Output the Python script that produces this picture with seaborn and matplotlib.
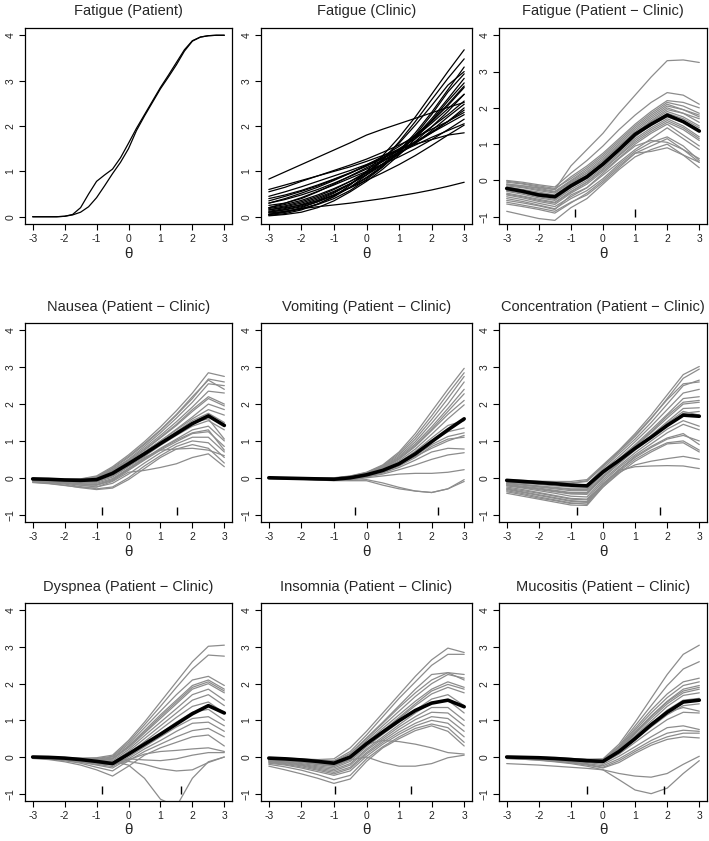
"""
plot.py
Item response difference curves, 3x3 panel layout.
"""
import pandas as pd
import matplotlib
matplotlib.use("Agg")
import matplotlib.pyplot as plt
import seaborn as sns

# theta grid used for every curve
theta = [-3, -2.5, -2, -1.5, -1, -0.5, 0, 0.5, 1, 1.5, 2, 2.5, 3]
# finer grid for the two patient curves (they bend more)
theta_fine = [-3, -2.75, -2.5, -2.25, -2, -1.75, -1.5, -1.25, -1, -0.75, -0.5, -0.25,
              0, 0.25, 0.5, 0.75, 1, 1.25, 1.5, 1.75, 2, 2.25, 2.5, 2.75, 3]

fatigue_patient = [
    [0.00, 0.00, 0.00, 0.00, 0.01, 0.05, 0.20, 0.50, 0.78, 0.92, 1.05, 1.30, 1.62,
     1.95, 2.25, 2.55, 2.85, 3.12, 3.40, 3.68, 3.88, 3.96, 3.99, 4.00, 4.00],
    [0.00, 0.00, 0.00, 0.00, 0.01, 0.04, 0.10, 0.22, 0.42, 0.68, 0.95, 1.20, 1.50,
     1.90, 2.22, 2.52, 2.82, 3.08, 3.35, 3.65, 3.87, 3.96, 3.99, 4.00, 4.00],
]

fatigue_clinic = [
    [0.83, 0.99, 1.15, 1.31, 1.47, 1.63, 1.80, 1.93, 2.05, 2.17, 2.29, 2.41, 2.52],
    [0.05, 0.12, 0.18, 0.22, 0.26, 0.30, 0.35, 0.40, 0.46, 0.52, 0.59, 0.67, 0.76],
    [0.03, 0.07, 0.15, 0.28, 0.45, 0.70, 1.00, 1.35, 1.75, 2.20, 2.70, 3.20, 3.68],
    [0.60, 0.70, 0.80, 0.90, 1.00, 1.10, 1.22, 1.35, 1.48, 1.60, 1.70, 1.80, 1.85],
    [0.55, 0.65, 0.78, 0.90, 1.02, 1.14, 1.27, 1.42, 1.58, 1.75, 1.93, 2.10, 2.30],
    [0.45, 0.55, 0.66, 0.78, 0.90, 1.02, 1.15, 1.30, 1.47, 1.65, 1.85, 2.05, 2.25],
    [0.40, 0.48, 0.58, 0.70, 0.83, 0.97, 1.12, 1.28, 1.46, 1.65, 1.87, 2.10, 2.35],
    [0.30, 0.38, 0.48, 0.60, 0.74, 0.89, 1.05, 1.22, 1.41, 1.62, 1.85, 2.10, 2.40],
    [0.20, 0.27, 0.36, 0.48, 0.62, 0.78, 0.96, 1.16, 1.38, 1.62, 1.90, 2.20, 2.48],
    [0.15, 0.22, 0.30, 0.42, 0.56, 0.73, 0.92, 1.14, 1.38, 1.66, 1.98, 2.32, 2.70],
    [0.12, 0.18, 0.27, 0.39, 0.54, 0.72, 0.93, 1.17, 1.44, 1.76, 2.10, 2.48, 2.88],
    [0.10, 0.15, 0.22, 0.33, 0.47, 0.65, 0.87, 1.12, 1.42, 1.77, 2.16, 2.60, 3.05],
    [0.08, 0.12, 0.18, 0.27, 0.40, 0.58, 0.82, 1.10, 1.45, 1.85, 2.30, 2.80, 3.30],
    [0.05, 0.10, 0.17, 0.28, 0.44, 0.65, 0.92, 1.25, 1.65, 2.10, 2.58, 3.05, 3.48],
    [0.18, 0.24, 0.33, 0.45, 0.60, 0.78, 0.99, 1.22, 1.48, 1.76, 2.06, 2.38, 2.70],
    [0.25, 0.30, 0.40, 0.55, 0.72, 0.90, 1.08, 1.25, 1.42, 1.58, 1.75, 1.90, 2.05],
    [0.05, 0.10, 0.20, 0.33, 0.48, 0.64, 0.80, 0.97, 1.15, 1.35, 1.57, 1.80, 2.02],
    [0.20, 0.30, 0.42, 0.56, 0.70, 0.85, 1.00, 1.16, 1.32, 1.50, 1.70, 1.92, 2.15],
    [0.35, 0.45, 0.56, 0.68, 0.82, 0.96, 1.12, 1.30, 1.50, 1.72, 1.98, 2.25, 2.55],
    [0.10, 0.16, 0.24, 0.36, 0.52, 0.72, 0.97, 1.27, 1.62, 2.02, 2.45, 2.90, 3.20],
    [0.15, 0.20, 0.26, 0.35, 0.48, 0.64, 0.85, 1.10, 1.42, 1.80, 2.25, 2.75, 3.15],
    [0.30, 0.40, 0.52, 0.65, 0.80, 0.96, 1.14, 1.33, 1.55, 1.80, 2.10, 2.45, 2.85],
    [0.02, 0.05, 0.10, 0.20, 0.35, 0.55, 0.78, 1.05, 1.36, 1.72, 2.12, 2.55, 2.95],
]

fatigue_diff = [
    [-0.10, -0.15, -0.20, -0.25, 0.40, 0.85, 1.30, 1.85, 2.35, 2.85, 3.30, 3.32, 3.25],
    [0.00, -0.05, -0.12, -0.18, 0.20, 0.55, 0.95, 1.40, 1.80, 2.15, 2.42, 2.35, 2.10],
    [-0.05, -0.10, -0.18, -0.25, 0.10, 0.40, 0.75, 1.15, 1.55, 1.90, 2.20, 2.15, 2.00],
    [-0.10, -0.15, -0.22, -0.30, 0.00, 0.30, 0.65, 1.05, 1.45, 1.80, 2.10, 1.95, 1.75],
    [-0.15, -0.20, -0.28, -0.35, -0.05, 0.20, 0.55, 0.95, 1.35, 1.70, 2.00, 1.85, 1.60],
    [-0.20, -0.28, -0.35, -0.42, -0.10, 0.15, 0.50, 0.90, 1.30, 1.62, 1.90, 1.75, 1.50],
    [-0.25, -0.32, -0.42, -0.48, -0.18, 0.08, 0.42, 0.82, 1.22, 1.52, 1.75, 1.60, 1.35],
    [-0.30, -0.38, -0.48, -0.55, -0.25, 0.00, 0.35, 0.75, 1.15, 1.45, 1.70, 1.50, 1.20],
    [-0.35, -0.43, -0.52, -0.60, -0.30, -0.05, 0.30, 0.68, 1.05, 1.35, 1.60, 1.40, 1.10],
    [-0.40, -0.48, -0.58, -0.66, -0.35, -0.10, 0.25, 0.62, 1.00, 1.30, 1.55, 1.25, 0.95],
    [-0.45, -0.53, -0.63, -0.72, -0.45, -0.20, 0.15, 0.50, 0.85, 1.15, 1.45, 1.15, 0.85],
    [-0.50, -0.58, -0.68, -0.78, -0.50, -0.28, 0.05, 0.45, 0.80, 1.05, 1.20, 0.95, 0.55],
    [-0.60, -0.68, -0.76, -0.85, -0.60, -0.40, -0.05, 0.35, 0.75, 0.95, 1.15, 0.85, 0.50],
    [-0.85, -0.95, -1.05, -1.10, -0.75, -0.50, -0.10, 0.30, 0.65, 0.85, 1.00, 0.70, 0.35],
    [-0.55, -0.62, -0.70, -0.80, -0.40, -0.20, 0.20, 0.60, 0.95, 1.10, 1.05, 0.85, 0.60],
    [-0.02, -0.08, -0.15, -0.22, 0.05, 0.35, 0.70, 1.10, 1.50, 1.85, 2.15, 2.05, 1.85],
    [-0.18, -0.25, -0.32, -0.40, -0.08, 0.20, 0.55, 0.95, 1.30, 1.65, 1.95, 1.85, 1.70],
    [-0.28, -0.35, -0.45, -0.52, -0.20, 0.05, 0.40, 0.80, 1.20, 1.55, 1.85, 1.70, 1.45],
    [-0.38, -0.45, -0.55, -0.62, -0.32, -0.05, 0.30, 0.70, 1.10, 1.40, 1.65, 1.45, 1.15],
    [-0.12, -0.18, -0.25, -0.32, -0.02, 0.25, 0.60, 1.00, 1.40, 1.75, 2.05, 1.95, 1.80],
    [-0.65, -0.72, -0.80, -0.90, -0.62, -0.35, 0.00, 0.40, 0.75, 0.80, 0.90, 0.70, 0.50],
]
fatigue_mean = [-0.22, -0.30, -0.40, -0.45, -0.15, 0.10, 0.45, 0.85, 1.27, 1.55, 1.80, 1.62, 1.36]

nausea_diff = [
    [-0.02, -0.03, -0.04, -0.03, 0.05, 0.30, 0.62, 0.98, 1.38, 1.82, 2.30, 2.85, 2.75],
    [-0.02, -0.03, -0.05, -0.04, 0.02, 0.25, 0.55, 0.90, 1.28, 1.70, 2.15, 2.68, 2.60],
    [-0.03, -0.04, -0.05, -0.05, 0.00, 0.22, 0.50, 0.85, 1.22, 1.62, 2.05, 2.55, 2.50],
    [-0.03, -0.04, -0.06, -0.06, -0.02, 0.20, 0.48, 0.80, 1.15, 1.52, 1.92, 2.35, 2.30],
    [-0.04, -0.05, -0.07, -0.08, -0.04, 0.16, 0.44, 0.75, 1.08, 1.42, 1.80, 2.15, 1.95],
    [-0.04, -0.05, -0.07, -0.09, -0.06, 0.12, 0.40, 0.70, 1.00, 1.32, 1.65, 2.00, 1.85],
    [-0.05, -0.06, -0.08, -0.10, -0.08, 0.08, 0.35, 0.65, 0.95, 1.25, 1.55, 1.75, 1.50],
    [-0.05, -0.07, -0.09, -0.12, -0.12, 0.02, 0.30, 0.58, 0.88, 1.15, 1.40, 1.55, 1.30],
    [-0.06, -0.08, -0.10, -0.14, -0.15, -0.02, 0.25, 0.52, 0.80, 1.05, 1.30, 1.40, 1.00],
    [-0.07, -0.09, -0.12, -0.17, -0.20, -0.08, 0.20, 0.48, 0.75, 0.98, 1.20, 1.25, 0.85],
    [-0.08, -0.10, -0.14, -0.20, -0.25, -0.15, 0.10, 0.40, 0.68, 0.92, 1.10, 1.10, 0.70],
    [-0.10, -0.13, -0.17, -0.24, -0.30, -0.25, 0.00, 0.32, 0.60, 0.85, 1.00, 0.95, 0.55],
    [-0.12, -0.15, -0.20, -0.27, -0.32, -0.28, -0.05, 0.25, 0.55, 0.78, 0.90, 0.80, 0.40],
    [-0.13, -0.16, -0.21, -0.26, -0.25, -0.10, 0.15, 0.20, 0.28, 0.38, 0.55, 0.65, 0.30],
    [-0.08, -0.11, -0.15, -0.20, -0.20, -0.05, 0.25, 0.55, 0.75, 0.78, 0.80, 0.75, 0.60],
    [-0.02, -0.03, -0.04, -0.04, 0.03, 0.27, 0.58, 0.93, 1.30, 1.72, 2.20, 2.65, 2.40],
    [-0.05, -0.06, -0.08, -0.10, -0.06, 0.12, 0.40, 0.70, 1.00, 1.30, 1.60, 1.85, 1.70],
    [-0.06, -0.07, -0.09, -0.12, -0.10, 0.05, 0.32, 0.62, 0.92, 1.20, 1.50, 1.60, 1.05],
    [-0.04, -0.05, -0.06, -0.07, -0.03, 0.18, 0.45, 0.76, 1.10, 1.45, 1.85, 2.20, 2.00],
    [-0.07, -0.09, -0.12, -0.16, -0.18, -0.05, 0.22, 0.50, 0.78, 1.02, 1.22, 1.30, 0.75],
]
nausea_mean = [-0.03, -0.04, -0.06, -0.07, -0.05, 0.12, 0.38, 0.65, 0.93, 1.20, 1.47, 1.68, 1.42]

vomiting_diff = [
    [0.00, 0.00, 0.00, -0.01, 0.00, 0.05, 0.15, 0.35, 0.70, 1.20, 1.80, 2.40, 2.97],
    [0.00, 0.00, 0.00, -0.01, -0.01, 0.04, 0.14, 0.33, 0.66, 1.12, 1.68, 2.28, 2.85],
    [0.00, 0.00, 0.00, -0.01, -0.01, 0.04, 0.13, 0.31, 0.62, 1.05, 1.58, 2.15, 2.75],
    [0.00, 0.00, -0.01, -0.02, -0.02, 0.03, 0.12, 0.29, 0.58, 0.98, 1.48, 2.00, 2.60],
    [0.00, 0.00, -0.01, -0.02, -0.02, 0.03, 0.11, 0.27, 0.55, 0.92, 1.38, 1.88, 2.40],
    [0.00, -0.01, -0.01, -0.02, -0.03, 0.02, 0.10, 0.25, 0.50, 0.85, 1.28, 1.72, 2.10],
    [0.00, -0.01, -0.01, -0.02, -0.03, 0.01, 0.09, 0.23, 0.46, 0.78, 1.18, 1.60, 1.98],
    [0.00, -0.01, -0.02, -0.03, -0.04, 0.00, 0.08, 0.21, 0.42, 0.72, 1.08, 1.42, 1.55],
    [0.00, -0.01, -0.02, -0.03, -0.04, -0.01, 0.07, 0.19, 0.38, 0.66, 0.98, 1.25, 1.35],
    [0.00, -0.01, -0.02, -0.03, -0.05, -0.02, 0.06, 0.17, 0.35, 0.60, 0.90, 1.12, 1.22],
    [-0.01, -0.02, -0.03, -0.04, -0.05, -0.03, 0.05, 0.15, 0.32, 0.55, 0.85, 1.05, 1.10],
    [-0.01, -0.02, -0.03, -0.04, -0.06, -0.04, 0.03, 0.13, 0.28, 0.48, 0.70, 0.80, 0.78],
    [-0.01, -0.02, -0.03, -0.05, -0.06, -0.05, 0.02, 0.10, 0.22, 0.35, 0.50, 0.62, 0.68],
    [-0.01, -0.02, -0.03, -0.05, -0.07, -0.06, 0.00, 0.05, 0.10, 0.12, 0.12, 0.15, 0.22],
    [-0.02, -0.03, -0.04, -0.05, -0.07, -0.08, -0.08, -0.20, -0.30, -0.36, -0.40, -0.30, -0.05],
    [-0.02, -0.03, -0.04, -0.06, -0.08, -0.07, -0.05, -0.14, -0.26, -0.36, -0.40, -0.30, -0.10],
    [0.00, 0.00, -0.01, -0.02, -0.02, 0.03, 0.11, 0.26, 0.52, 0.88, 1.32, 1.80, 2.28],
    [-0.01, -0.02, -0.03, -0.04, -0.05, -0.02, 0.06, 0.18, 0.36, 0.58, 0.80, 1.00, 1.15],
]
vomiting_mean = [0.00, -0.01, -0.02, -0.03, -0.04, 0.00, 0.08, 0.20, 0.38, 0.65, 0.98, 1.30, 1.60]

concentration_diff = [
    [-0.05, -0.07, -0.09, -0.10, -0.10, -0.05, 0.35, 0.75, 1.20, 1.70, 2.25, 2.80, 3.02],
    [-0.08, -0.10, -0.12, -0.14, -0.15, -0.10, 0.30, 0.70, 1.12, 1.60, 2.15, 2.70, 2.95],
    [-0.10, -0.12, -0.15, -0.18, -0.20, -0.18, 0.25, 0.65, 1.05, 1.50, 2.00, 2.50, 2.65],
    [-0.12, -0.15, -0.18, -0.22, -0.25, -0.25, 0.20, 0.58, 0.98, 1.40, 1.85, 2.30, 2.40],
    [-0.14, -0.18, -0.22, -0.26, -0.30, -0.30, 0.15, 0.52, 0.90, 1.30, 1.72, 2.15, 2.20],
    [-0.16, -0.20, -0.25, -0.30, -0.35, -0.35, 0.10, 0.48, 0.85, 1.22, 1.62, 2.00, 2.05],
    [-0.18, -0.23, -0.28, -0.34, -0.40, -0.40, 0.05, 0.42, 0.80, 1.15, 1.52, 1.88, 1.90],
    [-0.20, -0.26, -0.32, -0.38, -0.44, -0.45, 0.00, 0.38, 0.75, 1.08, 1.42, 1.75, 1.80],
    [-0.22, -0.28, -0.35, -0.42, -0.50, -0.52, -0.05, 0.32, 0.68, 1.00, 1.32, 1.55, 1.40],
    [-0.25, -0.32, -0.40, -0.48, -0.56, -0.58, -0.10, 0.28, 0.62, 0.92, 1.22, 1.45, 1.30],
    [-0.30, -0.38, -0.46, -0.54, -0.62, -0.65, -0.15, 0.22, 0.55, 0.82, 1.05, 1.15, 1.00],
    [-0.35, -0.43, -0.52, -0.60, -0.68, -0.72, -0.20, 0.18, 0.50, 0.75, 0.95, 1.00, 0.75],
    [-0.42, -0.50, -0.58, -0.66, -0.74, -0.75, -0.25, 0.12, 0.45, 0.70, 0.92, 0.95, 0.70],
    [-0.38, -0.46, -0.55, -0.62, -0.70, -0.68, -0.25, 0.15, 0.35, 0.45, 0.52, 0.58, 0.50],
    [-0.28, -0.35, -0.42, -0.50, -0.58, -0.60, -0.20, 0.20, 0.30, 0.32, 0.33, 0.32, 0.25],
    [-0.07, -0.09, -0.11, -0.13, -0.14, -0.08, 0.32, 0.72, 1.15, 1.62, 2.12, 2.55, 2.60],
    [-0.15, -0.19, -0.24, -0.28, -0.32, -0.32, 0.12, 0.50, 0.88, 1.25, 1.68, 2.05, 2.10],
    [-0.20, -0.25, -0.30, -0.36, -0.42, -0.42, 0.02, 0.40, 0.78, 1.12, 1.48, 1.80, 1.70],
    [-0.32, -0.40, -0.48, -0.56, -0.64, -0.66, -0.18, 0.22, 0.58, 0.85, 1.08, 1.20, 0.90],
]
concentration_mean = [-0.07, -0.10, -0.13, -0.16, -0.20, -0.22, 0.16, 0.47, 0.80, 1.10, 1.42, 1.70, 1.67]

dyspnea_diff = [
    [0.00, -0.01, -0.02, -0.03, -0.02, 0.05, 0.45, 0.95, 1.50, 2.05, 2.60, 3.02, 3.05],
    [0.00, -0.01, -0.02, -0.04, -0.04, 0.02, 0.40, 0.88, 1.38, 1.90, 2.40, 2.78, 2.75],
    [0.00, -0.01, -0.03, -0.05, -0.06, 0.00, 0.35, 0.80, 1.25, 1.70, 2.10, 2.20, 1.95],
    [0.00, -0.01, -0.03, -0.05, -0.07, -0.03, 0.30, 0.72, 1.15, 1.55, 1.95, 2.10, 1.85],
    [0.00, -0.02, -0.04, -0.06, -0.09, -0.06, 0.25, 0.65, 1.05, 1.45, 1.85, 2.00, 1.75],
    [0.00, -0.02, -0.04, -0.07, -0.11, -0.10, 0.20, 0.58, 0.95, 1.32, 1.70, 1.85, 1.55],
    [-0.01, -0.02, -0.05, -0.08, -0.13, -0.14, 0.15, 0.50, 0.85, 1.20, 1.55, 1.70, 1.40],
    [-0.01, -0.03, -0.06, -0.10, -0.15, -0.18, 0.10, 0.42, 0.75, 1.08, 1.38, 1.50, 1.20],
    [-0.01, -0.03, -0.06, -0.11, -0.17, -0.22, 0.05, 0.35, 0.65, 0.95, 1.22, 1.30, 1.00],
    [-0.02, -0.04, -0.07, -0.12, -0.20, -0.26, 0.00, 0.28, 0.55, 0.82, 1.05, 1.10, 0.85],
    [-0.02, -0.04, -0.08, -0.14, -0.22, -0.30, -0.05, 0.22, 0.45, 0.70, 0.92, 0.95, 0.70],
    [-0.03, -0.05, -0.10, -0.17, -0.28, -0.38, -0.10, 0.15, 0.35, 0.55, 0.72, 0.78, 0.55],
    [-0.04, -0.07, -0.13, -0.22, -0.35, -0.52, -0.25, 0.05, 0.25, 0.40, 0.55, 0.60, 0.30],
    [-0.03, -0.05, -0.09, -0.14, -0.20, -0.20, -0.08, 0.08, 0.15, 0.18, 0.22, 0.25, 0.15],
    [-0.02, -0.04, -0.07, -0.11, -0.16, -0.20, -0.12, -0.20, -0.32, -0.38, -0.35, -0.15, 0.00],
    [-0.02, -0.03, -0.05, -0.08, -0.10, -0.12, -0.22, -0.58, -1.15, -1.35, -0.58, -0.13, 0.00],
    [-0.01, -0.02, -0.04, -0.07, -0.10, -0.14, -0.05, -0.08, -0.10, -0.05, 0.05, 0.12, 0.12],
    [0.00, -0.01, -0.03, -0.05, -0.08, -0.05, 0.28, 0.68, 1.10, 1.50, 1.90, 2.05, 1.80],
]
dyspnea_mean = [0.00, -0.01, -0.03, -0.07, -0.12, -0.18, 0.08, 0.35, 0.62, 0.90, 1.18, 1.40, 1.20]

insomnia_diff = [
    [-0.02, -0.03, -0.05, -0.07, -0.05, 0.25, 0.70, 1.20, 1.70, 2.20, 2.65, 2.97, 2.85],
    [-0.03, -0.04, -0.06, -0.09, -0.10, 0.15, 0.60, 1.10, 1.60, 2.05, 2.50, 2.80, 2.80],
    [-0.04, -0.06, -0.09, -0.12, -0.14, 0.08, 0.50, 0.92, 1.35, 1.75, 2.10, 2.30, 2.25],
    [-0.05, -0.08, -0.11, -0.15, -0.18, 0.03, 0.45, 0.85, 1.25, 1.65, 2.00, 2.25, 2.15],
    [-0.06, -0.09, -0.13, -0.18, -0.22, -0.02, 0.40, 0.78, 1.15, 1.52, 1.85, 2.05, 1.90],
    [-0.08, -0.11, -0.15, -0.21, -0.26, -0.08, 0.33, 0.70, 1.05, 1.40, 1.72, 1.90, 1.75],
    [-0.09, -0.13, -0.18, -0.24, -0.30, -0.12, 0.28, 0.62, 0.95, 1.28, 1.58, 1.70, 1.40],
    [-0.10, -0.14, -0.20, -0.27, -0.34, -0.18, 0.22, 0.55, 0.88, 1.20, 1.48, 1.55, 1.20],
    [-0.12, -0.16, -0.22, -0.30, -0.38, -0.22, 0.18, 0.50, 0.82, 1.10, 1.35, 1.35, 1.00],
    [-0.13, -0.18, -0.24, -0.33, -0.42, -0.28, 0.12, 0.45, 0.75, 1.02, 1.22, 1.20, 0.85],
    [-0.15, -0.20, -0.27, -0.36, -0.46, -0.32, 0.08, 0.40, 0.68, 0.92, 1.10, 1.05, 0.70],
    [-0.17, -0.22, -0.30, -0.40, -0.50, -0.38, 0.02, 0.35, 0.62, 0.85, 1.00, 0.92, 0.55],
    [-0.20, -0.27, -0.36, -0.48, -0.62, -0.50, -0.05, 0.28, 0.55, 0.78, 0.90, 0.80, 0.40],
    [-0.25, -0.35, -0.46, -0.58, -0.72, -0.60, -0.12, 0.25, 0.50, 0.72, 0.85, 0.70, 0.30],
    [-0.06, -0.09, -0.12, -0.17, -0.20, -0.05, 0.35, 0.45, 0.42, 0.35, 0.25, 0.12, 0.08],
    [-0.05, -0.08, -0.11, -0.15, -0.18, -0.08, 0.00, -0.15, -0.25, -0.25, -0.18, -0.02, 0.05],
    [-0.03, -0.05, -0.08, -0.11, -0.12, 0.10, 0.52, 0.95, 1.40, 1.85, 2.25, 2.30, 2.10],
    [-0.07, -0.10, -0.14, -0.19, -0.24, -0.05, 0.35, 0.72, 1.08, 1.45, 1.80, 1.98, 1.85],
]
insomnia_mean = [-0.03, -0.05, -0.08, -0.12, -0.17, 0.00, 0.36, 0.68, 0.99, 1.27, 1.47, 1.55, 1.37]

mucositis_diff = [
    [0.00, 0.00, -0.01, -0.02, -0.04, -0.06, -0.05, 0.35, 0.95, 1.60, 2.25, 2.80, 3.05],
    [0.00, 0.00, -0.01, -0.02, -0.04, -0.07, -0.07, 0.30, 0.85, 1.40, 1.95, 2.40, 2.60],
    [0.00, -0.01, -0.02, -0.03, -0.05, -0.08, -0.08, 0.27, 0.78, 1.28, 1.72, 2.05, 2.15],
    [0.00, -0.01, -0.02, -0.03, -0.05, -0.08, -0.09, 0.25, 0.73, 1.20, 1.62, 1.95, 2.05],
    [0.00, -0.01, -0.02, -0.04, -0.06, -0.09, -0.10, 0.22, 0.68, 1.12, 1.52, 1.85, 1.95],
    [-0.01, -0.02, -0.03, -0.05, -0.07, -0.10, -0.11, 0.20, 0.63, 1.05, 1.45, 1.75, 1.85],
    [-0.01, -0.02, -0.03, -0.05, -0.07, -0.10, -0.12, 0.18, 0.58, 0.98, 1.38, 1.68, 1.75],
    [-0.01, -0.02, -0.04, -0.06, -0.08, -0.11, -0.13, 0.15, 0.52, 0.90, 1.28, 1.55, 1.60],
    [-0.01, -0.02, -0.04, -0.06, -0.09, -0.12, -0.14, 0.12, 0.47, 0.82, 1.15, 1.40, 1.45],
    [-0.02, -0.03, -0.05, -0.07, -0.10, -0.13, -0.16, 0.08, 0.40, 0.72, 1.02, 1.22, 1.20],
    [-0.02, -0.03, -0.05, -0.08, -0.11, -0.15, -0.20, 0.02, 0.28, 0.55, 0.80, 0.85, 0.75],
    [-0.03, -0.04, -0.06, -0.09, -0.13, -0.18, -0.24, -0.05, 0.20, 0.45, 0.65, 0.73, 0.70],
    [-0.03, -0.05, -0.07, -0.10, -0.14, -0.20, -0.28, -0.10, 0.15, 0.38, 0.55, 0.65, 0.65],
    [-0.04, -0.06, -0.08, -0.12, -0.16, -0.22, -0.30, -0.15, 0.10, 0.32, 0.48, 0.55, 0.52],
    [-0.18, -0.20, -0.22, -0.25, -0.28, -0.31, -0.35, -0.45, -0.52, -0.55, -0.45, -0.20, 0.02],
    [-0.04, -0.06, -0.09, -0.13, -0.18, -0.25, -0.35, -0.62, -0.90, -1.00, -0.85, -0.45, -0.10],
    [-0.01, -0.02, -0.03, -0.05, -0.08, -0.11, -0.12, 0.17, 0.55, 0.92, 1.22, 1.35, 1.25],
    [0.00, -0.01, -0.02, -0.04, -0.06, -0.09, -0.10, 0.21, 0.66, 1.10, 1.50, 1.80, 1.90],
]
mucositis_mean = [0.00, -0.01, -0.02, -0.04, -0.07, -0.10, -0.12, 0.15, 0.50, 0.88, 1.22, 1.50, 1.55]

# item thresholds marked near the bottom of each difference panel
fatigue_marks = [-0.86, 1.00]
nausea_marks = [-0.84, 1.53]
vomiting_marks = [-0.35, 2.19]
concentration_marks = [-0.81, 1.77]
dyspnea_marks = [-0.82, 1.64]
insomnia_marks = [-0.98, 1.36]
mucositis_marks = [-0.50, 1.91]

titles = [
    "Fatigue (Patient)", "Fatigue (Clinic)", "Fatigue (Patient \u2212 Clinic)",
    "Nausea (Patient \u2212 Clinic)", "Vomiting (Patient \u2212 Clinic)",
    "Concentration (Patient \u2212 Clinic)", "Dyspnea (Patient \u2212 Clinic)",
    "Insomnia (Patient \u2212 Clinic)", "Mucositis (Patient \u2212 Clinic)",
]


def to_long(curves, grid):
    rows = []
    for i, c in enumerate(curves):
        for t, v in zip(grid, c):
            rows.append((i, t, v))
    return pd.DataFrame(rows, columns=["curve", "theta", "value"])


sns.set_theme(style="ticks")
plt.rcParams["font.family"] = ["Liberation Sans", "DejaVu Sans"]

W, H = 709, 841
fig = plt.figure(figsize=(W / 100, H / 100), dpi=100)

col_left = [25, 261, 499]
col_w = [207, 211, 208]
row_top = [28, 323, 603]
row_h = [196, 199, 198]

panels = [
    (fatigue_patient, theta_fine, None, None),
    (fatigue_clinic, theta, None, None),
    (fatigue_diff, theta, fatigue_mean, fatigue_marks),
    (nausea_diff, theta, nausea_mean, nausea_marks),
    (vomiting_diff, theta, vomiting_mean, vomiting_marks),
    (concentration_diff, theta, concentration_mean, concentration_marks),
    (dyspnea_diff, theta, dyspnea_mean, dyspnea_marks),
    (insomnia_diff, theta, insomnia_mean, insomnia_marks),
    (mucositis_diff, theta, mucositis_mean, mucositis_marks),
]

for k, (curves, grid, mean, marks) in enumerate(panels):
    r, c = divmod(k, 3)
    ax = fig.add_axes([col_left[c] / W, 1 - (row_top[r] + row_h[r]) / H,
                       col_w[c] / W, row_h[r] / H])
    df = to_long(curves, grid)
    line_color = "black" if mean is None else "#8c8c8c"
    sns.lineplot(data=df, x="theta", y="value", units="curve", estimator=None,
                 color=line_color, lw=0.9, ax=ax, legend=False)
    if mean is not None:
        sns.lineplot(x=theta, y=mean, color="black", lw=2.6, ax=ax)
        ax.vlines(marks, -1.0, -0.8, color="black", lw=1.0)
        ax.set_ylim(-1.2, 4.2)
        ax.set_yticks([-1, 0, 1, 2, 3, 4])
    else:
        ax.set_ylim(-0.16, 4.16)
        ax.set_yticks([0, 1, 2, 3, 4])
    ax.set_xlim(-3.24, 3.24)
    ax.set_xticks([-3, -2, -1, 0, 1, 2, 3])
    ax.set_xticklabels(["-3", "-2", "-1", "0", "1", "2", "3"])
    ax.set_xlabel("\u03b8", fontsize=11, labelpad=2)
    ax.set_ylabel("")
    ax.set_title(titles[k], fontsize=10.5, pad=9)
    ax.tick_params(axis="both", labelsize=7.5, length=4, width=0.8, pad=3,
                   color="black", labelcolor="#222222")
    for lab in ax.get_yticklabels():
        lab.set_rotation(90)
        lab.set_va("center")
    for sp in ax.spines.values():
        sp.set_color("black")
        sp.set_linewidth(0.9)

plt.savefig("out.png", dpi=100)
